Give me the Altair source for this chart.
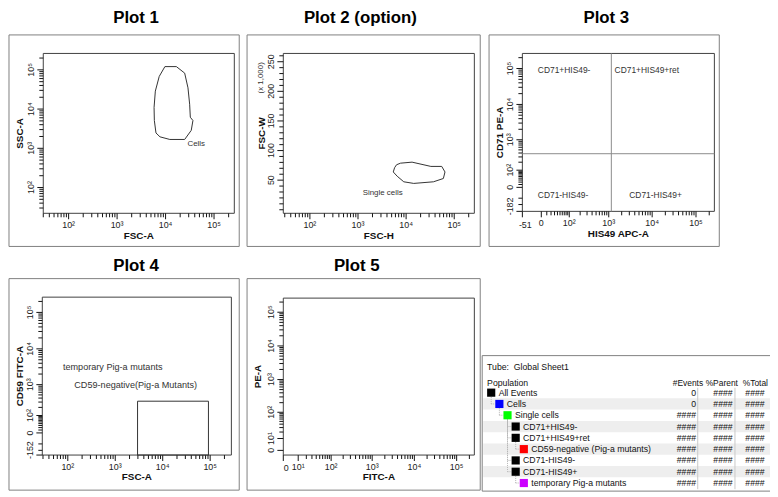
import altair as alt
import pandas as pd

# ---------------- data ----------------
# Plot 1: "Cells" gate polygon (FSC-A, SSC-A)
p1_gate_x = [9690, 16700, 24800, 29000, 31400, 32400, 36700, 33900, 24800, 12250, 7660, 6340, 5870, 5790, 6150, 7400]
p1_gate_y = [121000, 121000, 82500, 34800, 13300, 6200, 5100, 2870, 1680, 1680, 1960, 2460, 5100, 11000, 28700, 68000]
p1_label = ["Cells"]
p1_label_x = [28300]
p1_label_y = [1280]

# Plot 2: "Single cells" gate polygon (FSC-H, FSC-W)
p2_gate_x = [6330, 7660, 13300, 32700, 55000, 64300, 59500, 37000, 14400, 8950, 6530, 5410, 5760]
p2_gate_y = [76000, 78700, 80400, 73200, 73200, 63800, 52800, 47200, 44500, 47200, 56600, 63800, 71000]
p2_label = ["Single cells"]
p2_label_x = [1250]
p2_label_y = [29000]

# Plot 3: quadrant gate (HIS49 APC-A, CD71 PE-A)
p3_vline_x = [1150]
p3_hline_y = [380]
p3_labels = ["CD71+HIS49-", "CD71+HIS49+ret", "CD71-HIS49-", "CD71-HIS49+"]
p3_label_x = [-6, 1371, -6, 2997]
p3_label_y = [91550, 91550, -32, -32]

# Plot 4: CD59-negative rectangle gate (FSC-A, CD59 FITC-A)
p4_rect_x = [2950, 92000]
p4_rect_y = [-152, 320]
p4_labels = ["temporary Pig-a mutants", "CD59-negative(Pig-a Mutants)"]
p4_label_x = [79, 137]
p4_label_y = [3085, 1005]

# axis domains
p1_xdom = [30, 262144]
p1_ydom = [22, 262144]
p2_xdom = [28, 262144]
p2_ydom = [-6000, 264000]
p3_xdom = [-51, 262144]
p3_ydom = [-182, 262144]
p4_xdom = [29, 280000]
p4_ydom = [-152, 262144]
p5_xdom = [0, 262144]
p5_ydom = [-3, 262144]

# tick labels
log_vals = [100, 1000, 10000, 100000]
log_txt = ["10²", "10³", "10⁴", "10⁵"]
p2_y_vals = [50000, 100000, 150000, 200000, 250000]
p2_y_txt = ["50", "100", "150", "200", "250"]
p3_x_vals = [-51, 0, 100, 1000, 10000, 100000]
p3_x_txt = ["-51", "0", "10²", "10³", "10⁴", "10⁵"]
p3_y_vals = [-182, 0, 100, 1000, 10000, 100000]
p3_y_txt = ["-182", "0", "10²", "10³", "10⁴", "10⁵"]
p4_y_vals = [-152, 0, 100, 1000, 10000, 100000]
p4_y_txt = ["-152", "0", "10²", "10³", "10⁴", "10⁵"]
p5_vals = [0, 10, 100, 1000, 10000, 100000]
p5_txt = ["0", "10¹", "10²", "10³", "10⁴", "10⁵"]

# population table (hierarchy)
populations = ["All Events", "Cells", "Single cells", "CD71+HIS49-", "CD71+HIS49+ret",
               "CD59-negative (Pig-a mutants)", "CD71-HIS49-", "CD71-HIS49+", "temporary Pig-a mutants"]
levels = [0, 1, 2, 3, 3, 4, 3, 3, 4]
parent_row = [-1, 0, 1, 2, 2, 4, 2, 2, 7]
pop_colors = ["#000000", "#0000ff", "#00ff00", "#000000", "#000000", "#ff0000", "#000000", "#000000", "#cc00ff"]
events = ["0", "0", "####", "####", "####", "####", "####", "####", "####"]
parents = ["####"] * 9
totals = ["####"] * 9

# ---------------- layout helpers ----------------
W, H = 770, 489
FONT = "Liberation Sans"
INK = "#333333"


def X(v):
    return round(1 + (v - 2) * 0.99, 2)


def Y(v):
    return round(1 + (v - 4) * 0.985, 2)


def log_ticks(lo, hi):
    out = []
    for e in range(0, 6):
        for m in range(1, 10):
            v = m * 10 ** e
            if lo <= v <= hi:
                out.append(v)
    return out


ONE = pd.DataFrame({"a": [0]})


def frame(x0, x1, y0, y1, color="#808080"):
    return alt.Chart(ONE).mark_rect(fillOpacity=0, stroke=color, strokeWidth=1).encode(
        x=alt.value(X(x0)), x2=alt.value(X(x1)), y=alt.value(Y(y0)), y2=alt.value(Y(y1)))


def fixed_text(txt, x, y, size=8.5, align="left", weight="normal", angle=0, color="#111"):
    return alt.Chart(ONE).mark_text(font=FONT, fontSize=size, fontWeight=weight, color=color,
                                    align=align, baseline="middle", angle=angle).encode(
        x=alt.value(X(x)), y=alt.value(Y(y)), text=alt.value(txt))


def title_text(txt, cx, by):
    return alt.Chart(ONE).mark_text(font=FONT, fontSize=17, fontWeight="bold", color="#000",
                                    align="center", baseline="alphabetic").encode(
        x=alt.value(X(cx)), y=alt.value(Y(by)), text=alt.value(txt))


TICK_MINOR, TICK_MAJOR = 4, 6


def x_axis(sx, ticks, lab_vals, lab_txt, dom, ybot):
    yb = Y(ybot)
    major = [v for v in lab_vals]
    minor = [t for t in ticks if t not in major]
    out = []
    for vals, ln in ((minor, TICK_MINOR), (major, TICK_MAJOR)):
        d = pd.DataFrame({"v": vals})
        out.append(alt.Chart(d).mark_rule(color="#111", strokeWidth=1).encode(
            x=alt.X("v:Q", scale=sx, axis=None), y=alt.value(yb), y2=alt.value(yb + ln)))
    lab = pd.DataFrame({"v": lab_vals, "t": lab_txt})
    edge = lab[lab.v == dom[0]]
    mid = lab[lab.v != dom[0]]
    out.append(alt.Chart(mid).mark_text(font=FONT, fontSize=9, color="#222", align="center",
                                        baseline="middle").encode(
        x=alt.X("v:Q", scale=sx, axis=None), y=alt.value(yb + 12), text="t:N"))
    if len(edge):
        out.append(alt.Chart(edge).mark_text(font=FONT, fontSize=9, color="#222", align="center",
                                             baseline="middle", dx=3).encode(
            x=alt.X("v:Q", scale=sx, axis=None), y=alt.value(yb + 13.5), text="t:N"))
    return out


def y_axis(sy, ticks, lab_vals, lab_txt, dom, xleft):
    xl = X(xleft)
    major = [v for v in lab_vals]
    minor = [t for t in ticks if t not in major]
    out = []
    for vals, ln in ((minor, TICK_MINOR), (major, TICK_MAJOR)):
        d = pd.DataFrame({"v": vals})
        out.append(alt.Chart(d).mark_rule(color="#111", strokeWidth=1).encode(
            y=alt.Y("v:Q", scale=sy, axis=None), x=alt.value(xl - ln), x2=alt.value(xl)))
    lab = pd.DataFrame({"v": lab_vals, "t": lab_txt})
    edge = lab[lab.v == dom[0]]
    mid = lab[lab.v != dom[0]]
    out.append(alt.Chart(mid).mark_text(font=FONT, fontSize=9, color="#222", align="center",
                                        baseline="middle", angle=270).encode(
        y=alt.Y("v:Q", scale=sy, axis=None), x=alt.value(xl - 12), text="t:N"))
    if len(edge):
        out.append(alt.Chart(edge).mark_text(font=FONT, fontSize=9, color="#222", align="center",
                                             baseline="middle", angle=270, dx=5).encode(
            y=alt.Y("v:Q", scale=sy, axis=None), x=alt.value(xl - 12), text="t:N"))
    return out


def panel(sx, sy, xdom, ydom, xr, yr, xt, yt, xtitle, ytitle, ytitle_x, extra):
    b = pd.DataFrame({"x0": [xdom[0]], "x1": [xdom[1]], "y0": [ydom[0]], "y1": [ydom[1]]})
    border = alt.Chart(b).mark_rect(fillOpacity=0, stroke="#404040", strokeWidth=1).encode(
        x=alt.X("x0:Q", scale=sx, axis=None), x2="x1:Q",
        y=alt.Y("y0:Q", scale=sy, axis=None), y2="y1:Q")
    layers = [border]
    layers += x_axis(sx, xt[0], xt[1], xt[2], xdom, yr[0])
    layers += y_axis(sy, yt[0], yt[1], yt[2], ydom, xr[0])
    layers.append(fixed_text(xtitle, (xr[0] + xr[1]) / 2, yr[0] + 23, size=10, align="center",
                             weight="bold"))
    layers.append(fixed_text(ytitle, ytitle_x, (yr[0] + yr[1]) / 2, size=10, align="center",
                             weight="bold", angle=270))
    return alt.layer(*layers, *extra)


def gate_line(xs, ys, sx, sy):
    d = pd.DataFrame({"x": xs + [xs[0]], "y": ys + [ys[0]], "i": list(range(len(xs) + 1))})
    return alt.Chart(d).mark_line(color=INK, strokeWidth=1).encode(
        x=alt.X("x:Q", scale=sx, axis=None), y=alt.Y("y:Q", scale=sy, axis=None), order="i:Q")


def gate_text(txts, xs, ys, sx, sy, size=8):
    d = pd.DataFrame({"x": xs, "y": ys, "t": txts})
    return alt.Chart(d).mark_text(font=FONT, fontSize=size, color=INK, align="left",
                                  baseline="middle").encode(
        x=alt.X("x:Q", scale=sx, axis=None), y=alt.Y("y:Q", scale=sy, axis=None), text="t:N")


# ---------------- Plot 1 ----------------
r1x, r1y = (37, 232), (211, 47)
s1x = alt.Scale(type="log", domain=p1_xdom, range=[X(r1x[0]), X(r1x[1])], nice=False)
s1y = alt.Scale(type="log", domain=p1_ydom, range=[Y(r1y[0]), Y(r1y[1])], nice=False)
p1 = panel(s1x, s1y, p1_xdom, p1_ydom, r1x, r1y,
           (log_ticks(*p1_xdom), log_vals, log_txt), (log_ticks(*p1_ydom), log_vals, log_txt),
           "FSC-A", "SSC-A", 13,
           [gate_line(p1_gate_x, p1_gate_y, s1x, s1y),
            gate_text(p1_label, p1_label_x, p1_label_y, s1x, s1y)])

# ---------------- Plot 2 ----------------
r2x, r2y = (282, 477), (211, 47)
s2x = alt.Scale(type="log", domain=p2_xdom, range=[X(r2x[0]), X(r2x[1])], nice=False)
s2y = alt.Scale(type="linear", domain=p2_ydom, range=[Y(r2y[0]), Y(r2y[1])], nice=False, zero=False)
p2 = panel(s2x, s2y, p2_xdom, p2_ydom, r2x, r2y,
           (log_ticks(*p2_xdom), log_vals, log_txt),
           (list(range(0, 260001, 10000)), p2_y_vals, p2_y_txt),
           "FSC-H", "FSC-W", 260,
           [gate_line(p2_gate_x, p2_gate_y, s2x, s2y),
            gate_text(p2_label, p2_label_x, p2_label_y, s2x, s2y),
            fixed_text("(x 1,000)", 259, 72, size=8, align="center", angle=270, color=INK)])

# ---------------- Plot 3 ----------------
r3x, r3y = (526, 722), (209, 47)
s3x = alt.Scale(type="symlog", constant=30, domain=p3_xdom, range=[X(r3x[0]), X(r3x[1])], nice=False, zero=False)
s3y = alt.Scale(type="symlog", constant=50, domain=p3_ydom, range=[Y(r3y[0]), Y(r3y[1])], nice=False, zero=False)
q_v = pd.DataFrame({"x": p3_vline_x, "y0": [p3_ydom[0]], "y1": [p3_ydom[1]]})
q_h = pd.DataFrame({"y": p3_hline_y, "x0": [p3_xdom[0]], "x1": [p3_xdom[1]]})
vline = alt.Chart(q_v).mark_rule(color="#8c8c8c", strokeWidth=1).encode(
    x=alt.X("x:Q", scale=s3x, axis=None), y=alt.Y("y0:Q", scale=s3y, axis=None), y2="y1:Q")
hline = alt.Chart(q_h).mark_rule(color="#8c8c8c", strokeWidth=1).encode(
    y=alt.Y("y:Q", scale=s3y, axis=None), x=alt.X("x0:Q", scale=s3x, axis=None), x2="x1:Q")
p3 = panel(s3x, s3y, p3_xdom, p3_ydom, r3x, r3y,
           ([-51, 0] + log_ticks(10, 262144), p3_x_vals, p3_x_txt),
           ([-182, -100, -50, 0] + log_ticks(10, 262144), p3_y_vals, p3_y_txt),
           "HIS49 APC-A", "CD71 PE-A", 503,
           [vline, hline, gate_text(p3_labels, p3_label_x, p3_label_y, s3x, s3y, size=8.5)])

# ---------------- Plot 4 ----------------
r4x, r4y = (36, 229), (459, 297)
s4x = alt.Scale(type="log", domain=p4_xdom, range=[X(r4x[0]), X(r4x[1])], nice=False)
s4y = alt.Scale(type="symlog", constant=50, domain=p4_ydom, range=[Y(r4y[0]), Y(r4y[1])], nice=False, zero=False)
g4 = pd.DataFrame({"x0": [p4_rect_x[0]], "x1": [p4_rect_x[1]], "y0": [p4_rect_y[0]], "y1": [p4_rect_y[1]]})
rect4 = alt.Chart(g4).mark_rect(fillOpacity=0, stroke=INK, strokeWidth=1).encode(
    x=alt.X("x0:Q", scale=s4x, axis=None), x2="x1:Q",
    y=alt.Y("y0:Q", scale=s4y, axis=None), y2="y1:Q")
p4 = panel(s4x, s4y, p4_xdom, p4_ydom, r4x, r4y,
           (log_ticks(*p4_xdom), log_vals, log_txt),
           ([-152, -100, -50, 0] + log_ticks(10, 262144), p4_y_vals, p4_y_txt),
           "FSC-A", "CD59 FITC-A", 13,
           [rect4, gate_text(p4_labels, p4_label_x, p4_label_y, s4x, s4y, size=9.2)])

# ---------------- Plot 5 ----------------
r5x, r5y = (282, 477), (459, 298)
s5x = alt.Scale(type="symlog", constant=8, domain=p5_xdom, range=[X(r5x[0]), X(r5x[1])], nice=False, zero=False)
s5y = alt.Scale(type="symlog", constant=8, domain=p5_ydom, range=[Y(r5y[0]), Y(r5y[1])], nice=False, zero=False)
p5 = panel(s5x, s5y, p5_xdom, p5_ydom, r5x, r5y,
           ([0] + log_ticks(10, 262144), p5_vals, p5_txt),
           ([0] + log_ticks(10, 262144), p5_vals, p5_txt),
           "FITC-A", "PE-A", 256, [])

# ---------------- population table ----------------
tbl = pd.DataFrame({"row": list(range(len(populations))), "pop": populations, "level": levels,
                    "prow": parent_row, "col": pop_colors, "ev": events, "par": parents, "tot": totals})
tbl["plevel"] = [levels[p] if p >= 0 else -1 for p in parent_row]
ry = alt.Scale(domain=[0, 8], range=[Y(395), Y(487.7)], nice=False, zero=False)
lx = alt.Scale(domain=[0, 4], range=[X(494.2), X(527.5)], nice=False, zero=False)
base = alt.Chart(tbl)
bands = base.transform_filter("datum.row % 2 == 1").transform_calculate(
    r0="datum.row - 0.5", r1="datum.row + 0.5").mark_rect(color="#eeeeee").encode(
    x=alt.value(X(486)), x2=alt.value(X(782)),
    y=alt.Y("r0:Q", scale=ry, axis=None), y2="r1:Q")
tree_v = base.transform_filter("datum.prow >= 0").transform_calculate(
    py="datum.prow + 0.38").mark_rule(color="#b4b4b4", strokeWidth=1, strokeDash=[1, 1]).encode(
    x=alt.X("plevel:Q", scale=lx, axis=None), y=alt.Y("py:Q", scale=ry, axis=None), y2="row:Q")
tree_h = base.transform_filter("datum.prow >= 0").transform_calculate(
    lx2="datum.level - 0.5").mark_rule(color="#b4b4b4", strokeWidth=1, strokeDash=[1, 1]).encode(
    x=alt.X("plevel:Q", scale=lx, axis=None), x2="lx2:Q", y=alt.Y("row:Q", scale=ry, axis=None))
squares = base.mark_square(size=68, opacity=1).encode(
    x=alt.X("level:Q", scale=lx, axis=None), y=alt.Y("row:Q", scale=ry, axis=None),
    color=alt.Color("col:N", scale=None))
names = base.mark_text(font=FONT, fontSize=8.8, color="#111", align="left", baseline="middle", dx=7.5).encode(
    x=alt.X("level:Q", scale=lx, axis=None), y=alt.Y("row:Q", scale=ry, axis=None), text="pop:N")


def col_text(field, xr):
    return base.mark_text(font=FONT, fontSize=8.8, color="#111", align="right", baseline="middle").encode(
        x=alt.value(X(xr)), y=alt.Y("row:Q", scale=ry, axis=None), text=f"{field}:N")


def vrule(x, y0, y1, color="#c8c8c8"):
    return alt.Chart(ONE).mark_rule(color=color, strokeWidth=1).encode(
        x=alt.value(X(x)), y=alt.value(Y(y0)), y2=alt.value(Y(y1)))


table = alt.layer(
    frame(485, 782, 357, 496, color="#808080"),
    bands, tree_v, tree_h,
    vrule(705, 390, 494), vrule(743, 390, 494),
    squares, names,
    col_text("ev", 703.3), col_text("par", 740.7), col_text("tot", 773.3),
    fixed_text("Tube:\u00a0 Global Sheet1", 490, 368.5, size=8.8),
    fixed_text("Population", 490, 385, size=8.8),
    fixed_text("#Events", 710.5, 385, size=8.5, align="right"),
    fixed_text("%Parent", 746, 385, size=8.5, align="right"),
    fixed_text("%Total", 776.7, 385, size=8.5, align="right"),
)

chart = alt.layer(
    frame(2, 237, 28, 245), frame(245, 483, 28, 245), frame(492, 727, 28, 245),
    frame(2, 237, 278, 495), frame(245, 483, 278, 495),
    title_text("Plot 1", 131.7, 15.7), title_text("Plot 2 (option)", 360.7, 15.7),
    title_text("Plot 3", 611.7, 15.7), title_text("Plot 4", 131.7, 270),
    title_text("Plot 5", 357, 270),
    p1, p2, p3, p4, p5, table,
).resolve_scale(x="independent", y="independent").properties(
    width=W, height=H, autosize=alt.AutoSizeParams(type="none"), padding=0
).configure_view(strokeWidth=0)

chart.save("out.html", embed_options={"renderer": "svg", "actions": False})
